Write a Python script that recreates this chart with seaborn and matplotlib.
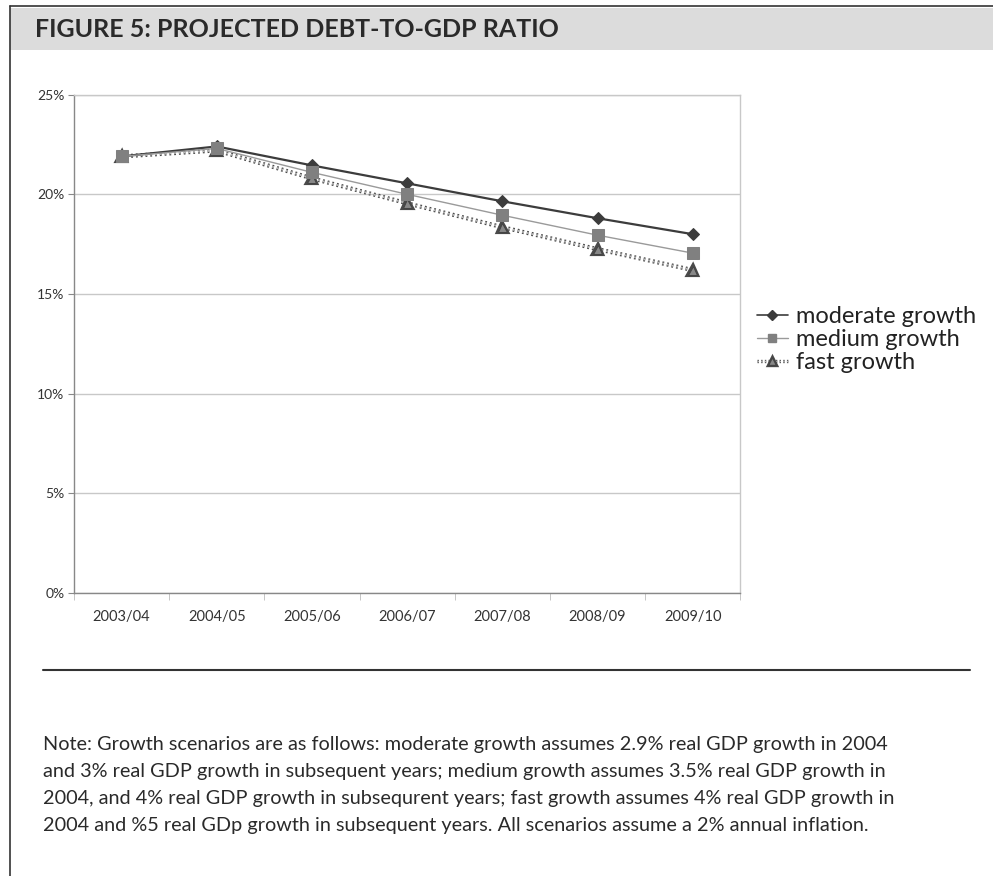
import pandas as pd
import seaborn as sns
from matplotlib import pyplot as plt
from matplotlib import patheffects as pe
from matplotlib.lines import Line2D

years = ["2003/04", "2004/05", "2005/06", "2006/07", "2007/08", "2008/09", "2009/10"]
moderate = [21.9, 22.4, 21.45, 20.55, 19.65, 18.8, 18.0]
medium = [21.9, 22.3, 21.1, 20.0, 18.95, 17.95, 17.05]
fast = [21.9, 22.2, 20.8, 19.55, 18.35, 17.25, 16.2]
scenarios = ["moderate growth", "medium growth", "fast growth"]
title = "FIGURE 5: PROJECTED DEBT-TO-GDP RATIO"
note = ("Note: Growth scenarios are as follows: moderate growth assumes 2.9% real GDP growth in 2004\n"
        "and 3% real GDP growth in subsequent years; medium growth assumes 3.5% real GDP growth in\n"
        "2004, and 4% real GDP growth in subsequrent years; fast growth assumes 4% real GDP growth in\n"
        "2004 and %5 real GDp growth in subsequent years. All scenarios assume a 2% annual inflation.")


def main():
    df = pd.DataFrame({"year": years * 3,
                       "ratio": moderate + medium + fast,
                       "scenario": [s for s in scenarios for _ in years]})

    sns.set_style("white")
    plt.rcParams["font.family"] = ["Lato", "DejaVu Sans"]

    fig = plt.figure(figsize=(9.93, 8.76), dpi=100)
    ax = fig.add_axes([0.0745, 0.323, 0.671, 0.569])

    palette = {"moderate growth": "#3c3c3c", "medium growth": "#9a9a9a", "fast growth": "#9a9a9a"}
    markers = {"moderate growth": "D", "medium growth": "s", "fast growth": "^"}
    sns.lineplot(df, x="year", y="ratio", hue="scenario", style="scenario",
                 hue_order=scenarios, palette=palette, markers=markers, dashes=False,
                 markersize=7, legend=False, ax=ax)

    mod_l, med_l, fast_l = ax.get_lines()[:3]
    mod_l.set_linewidth(1.6)
    mod_l.set_markersize(6)
    mod_l.set_markeredgecolor("#3c3c3c")
    med_l.set_linewidth(1.0)
    med_l.set_markersize(9)
    med_l.set_markerfacecolor("#808080")
    med_l.set_markeredgecolor("#808080")
    # textured line for the fast scenario
    fast_l.set_linewidth(1.3)
    fast_l.set_linestyle(":")
    fast_l.set_color("#bbbbbb")
    fast_l.set_path_effects([pe.Stroke(linewidth=3.0, foreground="#4a4a4a"), pe.Normal()])
    fast_l.set_markersize(6.5)
    fast_l.set_markerfacecolor("#888888")
    fast_l.set_markeredgecolor("#444444")
    fast_l.set_zorder(1.5)

    ax.set_xlim(-0.5, len(years) - 0.5)
    ax.set_ylim(0, 25)
    ax.set_yticks(range(0, 26, 5))
    ax.set_yticklabels([f"{v}%" for v in range(0, 26, 5)])
    ax.set_xticks(range(len(years)))
    ax.set_xticks([i - 0.5 for i in range(len(years) + 1)], minor=True)
    ax.set_xlabel("")
    ax.set_ylabel("")
    ax.yaxis.grid(True, color="#c8c8c8", linewidth=1)
    ax.set_axisbelow(True)
    ax.tick_params(axis="x", which="major", length=0, pad=12, labelsize=10.5, labelcolor="#333333")
    ax.tick_params(axis="x", which="minor", length=5, color="#bbbbbb", direction="out", bottom=True)
    ax.tick_params(axis="y", length=4, color="#888888", direction="out", left=True, pad=3,
                   labelsize=10, labelcolor="#333333")
    for s in ["top", "right"]:
        ax.spines[s].set_color("#c8c8c8")
        ax.spines[s].set_linewidth(1)
    for s in ["left", "bottom"]:
        ax.spines[s].set_color("#888888")
        ax.spines[s].set_linewidth(1)

    handles = [
        Line2D([], [], color="#3c3c3c", marker="D", markersize=5, linewidth=1.2),
        Line2D([], [], color="#9a9a9a", marker="s", markersize=6, markerfacecolor="#808080",
               markeredgecolor="#808080", linewidth=1.0),
        Line2D([], [], color="#bbbbbb", linestyle=":", marker="^", markersize=6,
               markerfacecolor="#888888", markeredgecolor="#444444", linewidth=1.0,
               path_effects=[pe.Stroke(linewidth=2.4, foreground="#4a4a4a"), pe.Normal()]),
    ]
    fig.legend(handles, scenarios, loc="center left", bbox_to_anchor=(0.748, 0.612),
               frameon=False, fontsize=17, handlelength=1.3, handletextpad=0.35,
               labelspacing=0.08, labelcolor="#222222", borderpad=0.1)

    # header band, frame lines and note
    fig.patches.append(plt.Rectangle((0.010, 0.943), 0.99, 0.048, transform=fig.transFigure,
                                     facecolor="#dcdcdc", edgecolor="none", zorder=0))
    fig.add_artist(Line2D([0.010, 1.0], [0.993, 0.993], color="#333333", linewidth=1.2))
    fig.add_artist(Line2D([0.010, 0.010], [0.0, 0.993], color="#333333", linewidth=1.2))
    fig.add_artist(Line2D([0.043, 0.977], [0.235, 0.235], color="#333333", linewidth=1.5))
    fig.text(0.035, 0.966, title, fontsize=18, fontweight="bold", color="#2a2a2a", va="center")
    fig.text(0.043, 0.160, note, fontsize=14.3, color="#2a2a2a", va="top", linespacing=1.72)

    fig.savefig("out.png", dpi=100, facecolor="white")


if __name__ == "__main__":
    main()
